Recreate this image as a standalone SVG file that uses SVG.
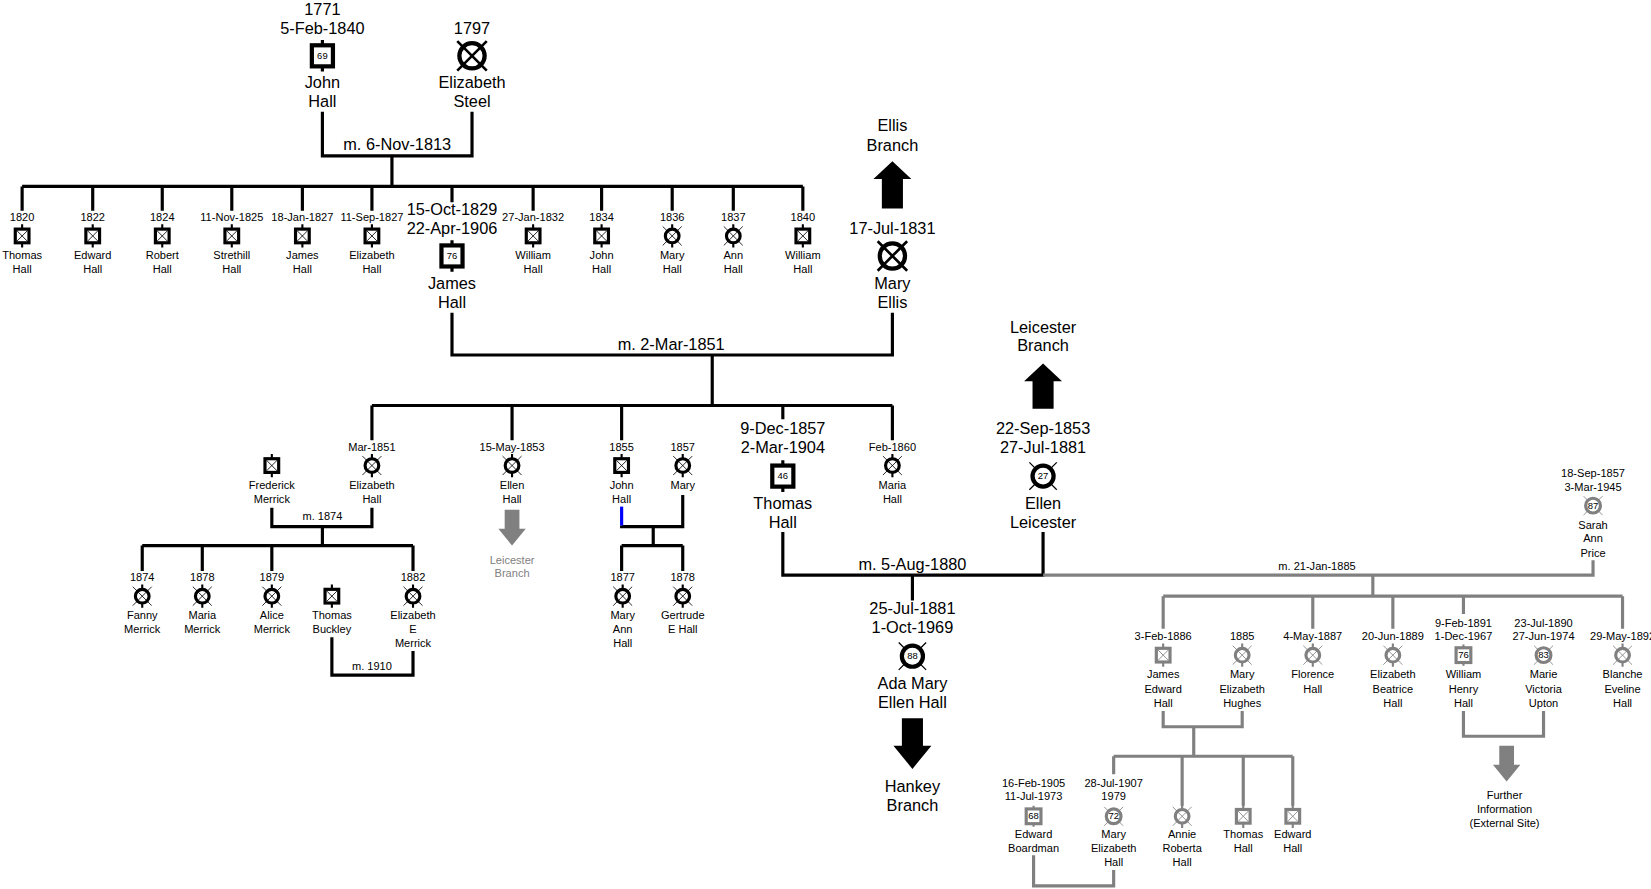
<svg xmlns="http://www.w3.org/2000/svg" xmlns:xlink="http://www.w3.org/1999/xlink" width="1651" height="889" viewBox="0 0 1651 889">
<style>
text{font-family:"Liberation Sans",Arial,sans-serif;text-anchor:middle;fill:#000}
.L{font-size:15.5px}.S{font-size:10.5px}.N{font-size:9px}.gt{fill:#808080}
.e{fill:none;stroke:#000;stroke-width:3}.g{stroke:#808080}.b{stroke:#0000ff}
</style>
<defs>
<g id="ms"><path d="M0,-11V-6M0,6V11" stroke="currentColor" stroke-width="2"/><rect x="-6.5" y="-6.5" width="13" height="13" fill="#fff" stroke="currentColor" stroke-width="3"/><path d="M-5,-5L5,5M5,-5L-5,5" stroke="currentColor" stroke-width="0.8"/></g>
<g id="fs"><path d="M0,-11V-6M0,6V11" stroke="currentColor" stroke-width="2"/><circle r="6.5" fill="#fff" stroke="currentColor" stroke-width="3"/><path d="M-9,-9L9,9M9,-9L-9,9" stroke="currentColor" stroke-width="0.8"/></g>
<g id="mb"><path d="M0,-15V-10M0,10V15" stroke="currentColor" stroke-width="3"/><rect x="-10" y="-10" width="20" height="20" fill="#fff" stroke="currentColor" stroke-width="4"/></g>
<g id="fb"><path d="M-13,-13L13,13M13,-13L-13,13" stroke="currentColor" stroke-width="1.2"/><circle r="10" fill="#fff" stroke="currentColor" stroke-width="4"/></g>
<g id="fx"><path d="M-14,-14L14,14M14,-14L-14,14" stroke="currentColor" stroke-width="2.5"/><circle r="12" fill="none" stroke="currentColor" stroke-width="4"/></g>
<g id="sm"><path d="M0,-10V-6M0,6V10" stroke="currentColor" stroke-width="2"/><rect x="-7" y="-7" width="14" height="14" fill="#fff" stroke="currentColor" stroke-width="3"/></g>
<g id="sf"><path d="M-9,-9L9,9M9,-9L-9,9" stroke="currentColor" stroke-width="0.8"/><circle r="7" fill="#fff" stroke="currentColor" stroke-width="3"/></g>
</defs>
<g transform="scale(1.0536,1.0533)">
<g id="connectors">
<path class="e" d="M306,106V148H448V106M372,148V177M21,177H762M21,177V200M88,177V200M154,177V200M220,177V200M287,177V200M353,177V200M429,177V192M506,177V200M571,177V200M638,177V200M696,177V200M762,177V200"/>
<path class="e" d="M429,297V337H847V297M676,337V385M353,385H847M353,385V418M486,385V418M590,385V418M743,385V398M847,385V418"/>
<path class="e" d="M258,482V500H353V482M306,500V518M135,518H392M135,518V542M192,518V542M258,518V542M392,518V542M315,605V641H392V618"/>
<path class="e" d="M590,499V500H648V470M620,500V518M590,518H648M590,518V542M648,518V542"/>
<path class="e b" d="M590,481V499"/>
<path class="e" d="M743,505V546H990V505M866,546V570"/>
<path class="e g" d="M990,546H1512V532M1303,546V566M1104,566H1540M1104,566V597M1246,566V597M1322,566V597M1389,566V583M1540,566V597"/>
<path class="e g" d="M1104,675V690H1179V675M1133,690V718M1057,718H1227M1057,718V735M1122,718V765M1180,718V765M1227,718V765M981,812V841H1057V826M1389,675V699H1465V675"/>
<path d="M837,198V170H829L847,153L865,170H857V198Z" fill="#000"/>
<path d="M980,388V362H972L990,345L1008,362H1000V388Z" fill="#000"/>
<path d="M856,682V708H848L866,730L884,708H876V682Z" fill="#000"/>
<path d="M479,484V502H473L486,518L499,502H493V484Z" fill="#808080"/>
<path d="M1423,708V726H1417L1430,742L1443,726H1437V708Z" fill="#808080"/>
</g>
<g id="n-john"><text class="L" x="306" y="14">1771</text><text class="L" x="306" y="32">5-Feb-1840</text><use href="#mb" x="306" y="53" color="#000"/><text class="N" x="306" y="56">69</text><text class="L" x="306" y="84">John</text><text class="L" x="306" y="102">Hall</text></g>
<g id="n-eliz-steel"><text class="L" x="448" y="32">1797</text><use href="#fx" x="448" y="53" color="#000"/><text class="L" x="448" y="84">Elizabeth</text><text class="L" x="448" y="102">Steel</text></g>
<text class="L" x="377" y="142">m. 6-Nov-1813</text>
<g id="kids1">
<g><text class="S" x="21" y="210">1820</text><use href="#ms" x="21" y="224" color="#000"/><text class="S" x="21" y="246">Thomas</text><text class="S" x="21" y="259">Hall</text></g>
<g><text class="S" x="88" y="210">1822</text><use href="#ms" x="88" y="224" color="#000"/><text class="S" x="88" y="246">Edward</text><text class="S" x="88" y="259">Hall</text></g>
<g><text class="S" x="154" y="210">1824</text><use href="#ms" x="154" y="224" color="#000"/><text class="S" x="154" y="246">Robert</text><text class="S" x="154" y="259">Hall</text></g>
<g><text class="S" x="220" y="210">11-Nov-1825</text><use href="#ms" x="220" y="224" color="#000"/><text class="S" x="220" y="246">Strethill</text><text class="S" x="220" y="259">Hall</text></g>
<g><text class="S" x="287" y="210">18-Jan-1827</text><use href="#ms" x="287" y="224" color="#000"/><text class="S" x="287" y="246">James</text><text class="S" x="287" y="259">Hall</text></g>
<g><text class="S" x="353" y="210">11-Sep-1827</text><use href="#ms" x="353" y="224" color="#000"/><text class="S" x="353" y="246">Elizabeth</text><text class="S" x="353" y="259">Hall</text></g>
<g><text class="S" x="506" y="210">27-Jan-1832</text><use href="#ms" x="506" y="224" color="#000"/><text class="S" x="506" y="246">William</text><text class="S" x="506" y="259">Hall</text></g>
<g><text class="S" x="571" y="210">1834</text><use href="#ms" x="571" y="224" color="#000"/><text class="S" x="571" y="246">John</text><text class="S" x="571" y="259">Hall</text></g>
<g><text class="S" x="638" y="210">1836</text><use href="#fs" x="638" y="224" color="#000"/><text class="S" x="638" y="246">Mary</text><text class="S" x="638" y="259">Hall</text></g>
<g><text class="S" x="696" y="210">1837</text><use href="#fs" x="696" y="224" color="#000"/><text class="S" x="696" y="246">Ann</text><text class="S" x="696" y="259">Hall</text></g>
<g><text class="S" x="762" y="210">1840</text><use href="#ms" x="762" y="224" color="#000"/><text class="S" x="762" y="246">William</text><text class="S" x="762" y="259">Hall</text></g>
</g>
<g id="n-james"><text class="L" x="429" y="204">15-Oct-1829</text><text class="L" x="429" y="222">22-Apr-1906</text><use href="#mb" x="429" y="243" color="#000"/><text class="N" x="429" y="246">76</text><text class="L" x="429" y="274">James</text><text class="L" x="429" y="292">Hall</text></g>
<g id="n-mary-ellis"><text class="L" x="847" y="222">17-Jul-1831</text><use href="#fx" x="847" y="243" color="#000"/><text class="L" x="847" y="274">Mary</text><text class="L" x="847" y="292">Ellis</text></g>
<g id="n-ellis-branch"><text class="L" x="847" y="124">Ellis</text><text class="L" x="847" y="143">Branch</text></g>
<text class="L" x="637" y="332">m. 2-Mar-1851</text>
<g id="n-frederick"><use href="#ms" x="258" y="442" color="#000"/><text class="S" x="258" y="464">Frederick</text><text class="S" x="258" y="478">Merrick</text></g>
<g id="n-elizabeth-hall"><text class="S" x="353" y="428">Mar-1851</text><use href="#fs" x="353" y="442" color="#000"/><text class="S" x="353" y="464">Elizabeth</text><text class="S" x="353" y="478">Hall</text></g>
<text class="S" x="306" y="494">m. 1874</text>
<g><text class="S" x="135" y="552">1874</text><use href="#fs" x="135" y="566" color="#000"/><text class="S" x="135" y="588">Fanny</text><text class="S" x="135" y="601">Merrick</text></g>
<g><text class="S" x="192" y="552">1878</text><use href="#fs" x="192" y="566" color="#000"/><text class="S" x="192" y="588">Maria</text><text class="S" x="192" y="601">Merrick</text></g>
<g><text class="S" x="258" y="552">1879</text><use href="#fs" x="258" y="566" color="#000"/><text class="S" x="258" y="588">Alice</text><text class="S" x="258" y="601">Merrick</text></g>
<g><use href="#ms" x="315" y="566" color="#000"/><text class="S" x="315" y="588">Thomas</text><text class="S" x="315" y="601">Buckley</text></g>
<g><text class="S" x="392" y="552">1882</text><use href="#fs" x="392" y="566" color="#000"/><text class="S" x="392" y="588">Elizabeth</text><text class="S" x="392" y="601">E</text><text class="S" x="392" y="614">Merrick</text></g>
<text class="S" x="353" y="636">m. 1910</text>
<g id="n-ellen-hall"><text class="S" x="486" y="428">15-May-1853</text><use href="#fs" x="486" y="442" color="#000"/><text class="S" x="486" y="464">Ellen</text><text class="S" x="486" y="478">Hall</text><text class="S gt" x="486" y="535">Leicester</text><text class="S gt" x="486" y="548">Branch</text></g>
<g id="n-john-hall2"><text class="S" x="590" y="428">1855</text><use href="#ms" x="590" y="442" color="#000"/><text class="S" x="590" y="464">John</text><text class="S" x="590" y="478">Hall</text></g>
<g id="n-mary1857"><text class="S" x="648" y="428">1857</text><use href="#fs" x="648" y="442" color="#000"/><text class="S" x="648" y="464">Mary</text></g>
<g><text class="S" x="591" y="552">1877</text><use href="#fs" x="591" y="566" color="#000"/><text class="S" x="591" y="588">Mary</text><text class="S" x="591" y="601">Ann</text><text class="S" x="591" y="614">Hall</text></g>
<g><text class="S" x="648" y="552">1878</text><use href="#fs" x="648" y="566" color="#000"/><text class="S" x="648" y="588">Gertrude</text><text class="S" x="648" y="601">E Hall</text></g>
<g id="n-thomas"><text class="L" x="743" y="412">9-Dec-1857</text><text class="L" x="743" y="430">2-Mar-1904</text><use href="#mb" x="743" y="452" color="#000"/><text class="N" x="743" y="455">46</text><text class="L" x="743" y="483">Thomas</text><text class="L" x="743" y="501">Hall</text></g>
<g id="n-maria"><text class="S" x="847" y="428">Feb-1860</text><use href="#fs" x="847" y="442" color="#000"/><text class="S" x="847" y="464">Maria</text><text class="S" x="847" y="478">Hall</text></g>
<g id="n-ellen-leicester"><text class="L" x="990" y="412">22-Sep-1853</text><text class="L" x="990" y="430">27-Jul-1881</text><use href="#fb" x="990" y="452" color="#000"/><text class="N" x="990" y="455">27</text><text class="L" x="990" y="483">Ellen</text><text class="L" x="990" y="501">Leicester</text></g>
<g id="n-leicester-branch"><text class="L" x="990" y="316">Leicester</text><text class="L" x="990" y="333">Branch</text></g>
<text class="L" x="866" y="541">m. 5-Aug-1880</text>
<g id="n-ada"><text class="L" x="866" y="583">25-Jul-1881</text><text class="L" x="866" y="601">1-Oct-1969</text><use href="#fb" x="866" y="623" color="#000"/><text class="N" x="866" y="626">88</text><text class="L" x="866" y="654">Ada Mary</text><text class="L" x="866" y="672">Ellen Hall</text></g>
<g id="n-hankey"><text class="L" x="866" y="752">Hankey</text><text class="L" x="866" y="770">Branch</text></g>
<g id="n-sarah"><text class="S" x="1512" y="453">18-Sep-1857</text><text class="S" x="1512" y="466">3-Mar-1945</text><use href="#sf" x="1512" y="480" color="#808080"/><text class="N" x="1512" y="483" font-size="8">87</text><text class="S" x="1512" y="502">Sarah</text><text class="S" x="1512" y="515">Ann</text><text class="S" x="1512" y="529">Price</text></g>
<text class="S" x="1250" y="541">m. 21-Jan-1885</text>
<g><text class="S" x="1104" y="608">3-Feb-1886</text><use href="#ms" x="1104" y="622" color="#808080"/><text class="S" x="1104" y="644">James</text><text class="S" x="1104" y="658">Edward</text><text class="S" x="1104" y="671">Hall</text></g>
<g><text class="S" x="1179" y="608">1885</text><use href="#fs" x="1179" y="622" color="#808080"/><text class="S" x="1179" y="644">Mary</text><text class="S" x="1179" y="658">Elizabeth</text><text class="S" x="1179" y="671">Hughes</text></g>
<g><text class="S" x="1246" y="608">4-May-1887</text><use href="#fs" x="1246" y="622" color="#808080"/><text class="S" x="1246" y="644">Florence</text><text class="S" x="1246" y="658">Hall</text></g>
<g><text class="S" x="1322" y="608">20-Jun-1889</text><use href="#fs" x="1322" y="622" color="#808080"/><text class="S" x="1322" y="644">Elizabeth</text><text class="S" x="1322" y="658">Beatrice</text><text class="S" x="1322" y="671">Hall</text></g>
<g><text class="S" x="1389" y="595">9-Feb-1891</text><text class="S" x="1389" y="608">1-Dec-1967</text><use href="#sm" x="1389" y="622" color="#808080"/><text class="N" x="1389" y="625" font-size="8">76</text><text class="S" x="1389" y="644">William</text><text class="S" x="1389" y="658">Henry</text><text class="S" x="1389" y="671">Hall</text></g>
<g><text class="S" x="1465" y="595">23-Jul-1890</text><text class="S" x="1465" y="608">27-Jun-1974</text><use href="#sf" x="1465" y="622" color="#808080"/><text class="N" x="1465" y="625" font-size="8">83</text><text class="S" x="1465" y="644">Marie</text><text class="S" x="1465" y="658">Victoria</text><text class="S" x="1465" y="671">Upton</text></g>
<g><text class="S" x="1540" y="608">29-May-1892</text><use href="#fs" x="1540" y="622" color="#808080"/><text class="S" x="1540" y="644">Blanche</text><text class="S" x="1540" y="658">Eveline</text><text class="S" x="1540" y="671">Hall</text></g>
<g><text class="S" x="1428" y="759">Further</text><text class="S" x="1428" y="772">Information</text><text class="S" x="1428" y="785">(External Site)</text></g>
<g><text class="S" x="981" y="747">16-Feb-1905</text><text class="S" x="981" y="760">11-Jul-1973</text><use href="#sm" x="981" y="775" color="#808080"/><text class="N" x="981" y="778" font-size="8">68</text><text class="S" x="981" y="796">Edward</text><text class="S" x="981" y="809">Boardman</text></g>
<g><text class="S" x="1057" y="747">28-Jul-1907</text><text class="S" x="1057" y="760">1979</text><use href="#sf" x="1057" y="775" color="#808080"/><text class="N" x="1057" y="778" font-size="8">72</text><text class="S" x="1057" y="796">Mary</text><text class="S" x="1057" y="809">Elizabeth</text><text class="S" x="1057" y="822">Hall</text></g>
<g><use href="#fs" x="1122" y="775" color="#808080"/><text class="S" x="1122" y="796">Annie</text><text class="S" x="1122" y="809">Roberta</text><text class="S" x="1122" y="822">Hall</text></g>
<g><use href="#ms" x="1180" y="775" color="#808080"/><text class="S" x="1180" y="796">Thomas</text><text class="S" x="1180" y="809">Hall</text></g>
<g><use href="#ms" x="1227" y="775" color="#808080"/><text class="S" x="1227" y="796">Edward</text><text class="S" x="1227" y="809">Hall</text></g>
</g>
</svg>
